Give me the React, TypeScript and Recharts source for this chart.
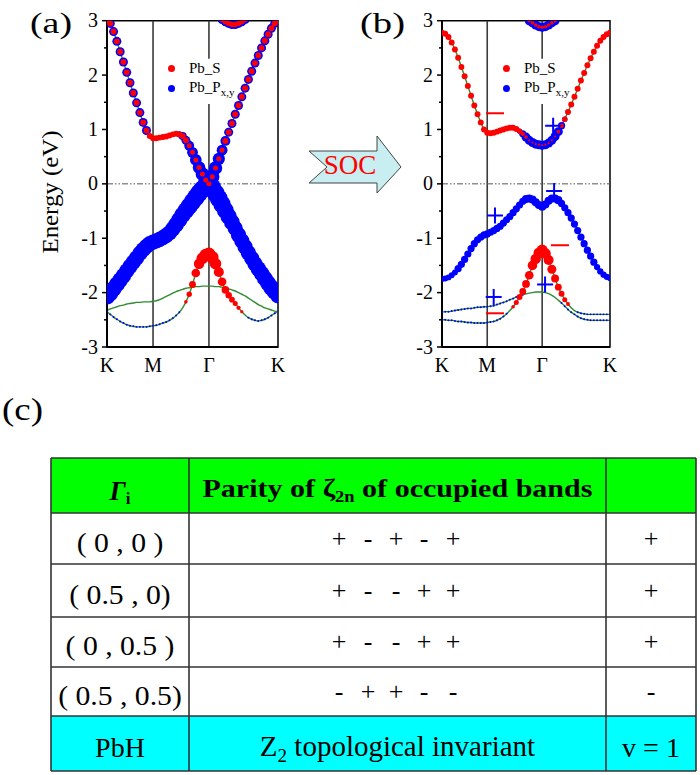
import React from "react";
import {
  ComposedChart,
  Line,
  Scatter,
  XAxis,
  YAxis,
  ReferenceLine,
  ReferenceArea,
  Legend,
} from "recharts";

// ---------------------------------------------------------------------------
// k-path: 53 k-points, K(0) -> M(14) -> Gamma(31) -> K(52)
// ---------------------------------------------------------------------------
const kPath = Array.from({ length: 53 }, (_, i) => i);
const kTicks = [0, 14, 31, 52];
const kLabels = ["K", "M", "Γ", "K"];
const energyTicks = [-3, -2.5, -2, -1.5, -1, -0.5, 0, 0.5, 1, 1.5, 2, 2.5, 3];

// ---- (a) without SOC (eV) ----
const aCond = [
  3.0, 2.95, 2.8, 2.62, 2.43, 2.24, 2.05, 1.86, 1.67, 1.49, 1.31, 1.13, 0.98, 0.88, 0.84,
  0.84, 0.85, 0.86, 0.87, 0.89, 0.91, 0.92, 0.91, 0.88, 0.8, 0.7, 0.58, 0.44, 0.3, 0.18, 0.07, 0.0,
  0.13, 0.29, 0.46, 0.62, 0.79, 0.95, 1.11, 1.28, 1.44, 1.6, 1.76, 1.92, 2.07, 2.22, 2.36, 2.5, 2.63, 2.75, 2.86, 2.95, 3.0,
];
const aCondS = [
  0.33, 0.33, 0.33, 0.33, 0.33, 0.33, 0.33, 0.33, 0.33, 0.33, 0.33, 0.33, 0.33, 0.33, 0.33,
  0.33, 0.33, 0.33, 0.33, 0.33, 0.33, 0.33, 0.33, 0.33, 0.33, 0.28, 0.28, 0.28, 0.28, 0.28, 0.28, 0.28,
  0.28, 0.28, 0.28, 0.28, 0.33, 0.33, 0.33, 0.33, 0.33, 0.33, 0.33, 0.33, 0.33, 0.33, 0.33, 0.33, 0.33, 0.33, 0.33, 0.33, 0.33,
];
const aCondP = [
  0.5, 0.5, 0.5, 0.5, 0.5, 0.5, 0.5, 0.5, 0.5, 0.5, 0.5, 0.5, 0.5, 0.15, 0.15,
  0.15, 0.15, 0.15, 0.15, 0.15, 0.15, 0.15, 0.35, 0.45, 0.5, 0.55, 0.6, 0.65, 0.7, 0.75, 0.8, 0.85,
  0.8, 0.75, 0.68, 0.6, 0.55, 0.5, 0.5, 0.5, 0.5, 0.5, 0.5, 0.5, 0.5, 0.5, 0.5, 0.5, 0.5, 0.5, 0.5, 0.5, 0.5,
];
const aVal = [
  -2.07, -2.01, -1.93, -1.85, -1.77, -1.69, -1.6, -1.52, -1.44, -1.36, -1.28, -1.21, -1.15, -1.1, -1.07,
  -1.05, -1.02, -0.99, -0.95, -0.9, -0.83, -0.75, -0.66, -0.57, -0.49, -0.41, -0.33, -0.25, -0.17, -0.1, -0.04, 0.0,
  -0.07, -0.17, -0.27, -0.38, -0.49, -0.6, -0.71, -0.82, -0.94, -1.05, -1.16, -1.27, -1.37, -1.47, -1.56, -1.65, -1.74, -1.83, -1.91, -1.98, -2.05,
];
const aValP = [
  0.9, 0.9, 0.89, 0.88, 0.87, 0.86, 0.85, 0.85, 0.85, 0.85, 0.85, 0.85, 0.85, 0.85, 0.85,
  0.85, 0.85, 0.85, 0.85, 0.85, 0.85, 0.87, 0.89, 0.91, 0.93, 0.95, 0.97, 0.99, 1.0, 1.0, 1.0, 1.0,
  1.0, 1.0, 1.0, 0.97, 0.94, 0.91, 0.88, 0.85, 0.85, 0.85, 0.85, 0.85, 0.85, 0.85, 0.86, 0.87, 0.88, 0.89, 0.9, 0.9, 0.9,
];
const aS = [
  -2.35, -2.4, -2.45, -2.49, -2.53, -2.56, -2.59, -2.61, -2.62, -2.63, -2.63, -2.63, -2.63, -2.62, -2.61,
  -2.6, -2.58, -2.56, -2.54, -2.51, -2.47, -2.42, -2.36, -2.28, -2.17, -2.03, -1.85, -1.64, -1.47, -1.37, -1.31, -1.29,
  -1.35, -1.47, -1.62, -1.8, -1.95, -2.05, -2.13, -2.2, -2.28, -2.35, -2.41, -2.46, -2.49, -2.51, -2.52, -2.51, -2.49, -2.46, -2.42, -2.38, -2.35,
];
const aSS = [
  0, 0, 0, 0, 0, 0, 0, 0, 0, 0, 0, 0, 0, 0, 0,
  0, 0, 0, 0, 0, 0, 0, 0, 0, 0.2, 0.3, 0.38, 0.48, 0.58, 0.65, 0.7, 0.72,
  0.7, 0.64, 0.56, 0.48, 0.42, 0.36, 0.32, 0.28, 0.24, 0.18, 0, 0, 0, 0, 0, 0, 0, 0, 0, 0, 0,
];
const aSP = [
  0.11, 0.11, 0.11, 0.11, 0.11, 0.11, 0.11, 0.11, 0.11, 0.11, 0.11, 0.11, 0.11, 0.11, 0.11,
  0.11, 0.11, 0.11, 0.11, 0.11, 0.11, 0.11, 0.11, 0, 0, 0, 0, 0, 0, 0, 0, 0,
  0, 0, 0, 0, 0, 0, 0, 0, 0, 0, 0, 0.11, 0.11, 0.11, 0.11, 0.11, 0.11, 0.11, 0.11, 0.11, 0.11,
];
const aGreen = [
  -2.33, -2.3, -2.28, -2.26, -2.24, -2.23, -2.21, -2.2, -2.19, -2.18, -2.18, -2.17, -2.17, -2.17, -2.16,
  -2.15, -2.13, -2.1, -2.07, -2.04, -2.01, -1.98, -1.96, -1.94, -1.92, -1.91, -1.9, -1.89, -1.89, -1.88, -1.88, -1.88,
  -1.88, -1.89, -1.89, -1.9, -1.91, -1.93, -1.95, -1.97, -2.0, -2.03, -2.06, -2.1, -2.14, -2.18, -2.22, -2.25, -2.28, -2.3, -2.32, -2.34, -2.35,
];
const aTop = [
  null, null, null, null, null, null, null, null, null, null, null, null, null, null, null,
  null, null, null, null, null, null, null, null, null, null, null, null, null, null, null, null, null,
  null, null, null, 3.02, 2.98, 2.95, 2.93, 2.93, 2.95, 2.98, 3.02, null, null, null, null, null, null, null, null, null, null,
];

// ---- (b) with SOC (eV) ----
const bCond = [
  2.78, 2.76, 2.7, 2.6, 2.47, 2.32, 2.15, 1.98, 1.8, 1.62, 1.44, 1.28, 1.13, 1.0, 0.94,
  0.93, 0.94, 0.96, 0.98, 1.0, 1.02, 1.03, 1.03, 1.01, 0.97, 0.92, 0.86, 0.8, 0.76, 0.73, 0.72, 0.71,
  0.72, 0.75, 0.8, 0.87, 0.96, 1.07, 1.19, 1.32, 1.46, 1.6, 1.75, 1.9, 2.04, 2.18, 2.31, 2.43, 2.54, 2.63, 2.7, 2.75, 2.78,
];
const bCondS = [
  0.33, 0.33, 0.33, 0.33, 0.33, 0.33, 0.33, 0.33, 0.33, 0.33, 0.33, 0.33, 0.33, 0.33, 0.33,
  0.33, 0.33, 0.33, 0.33, 0.33, 0.33, 0.33, 0.33, 0.33, 0.3, 0.25, 0.2, 0.12, 0.12, 0.12, 0.12, 0.12,
  0.12, 0.12, 0.12, 0.12, 0.2, 0.25, 0.3, 0.33, 0.33, 0.33, 0.33, 0.33, 0.33, 0.33, 0.33, 0.33, 0.33, 0.33, 0.33, 0.33, 0.33,
];
const bCondP = [
  0, 0, 0, 0, 0, 0, 0, 0, 0, 0, 0, 0, 0, 0, 0,
  0, 0, 0, 0, 0, 0, 0, 0, 0.2, 0.3, 0.4, 0.5, 0.5, 0.5, 0.5, 0.5, 0.5,
  0.5, 0.5, 0.5, 0.5, 0.5, 0.4, 0.3, 0.2, 0, 0, 0, 0, 0, 0, 0, 0, 0, 0, 0, 0, 0,
];
const bVal = [
  -1.75, -1.74, -1.72, -1.68, -1.63, -1.56, -1.48, -1.39, -1.29, -1.19, -1.1, -1.03, -0.98, -0.94, -0.92,
  -0.89, -0.86, -0.82, -0.78, -0.72, -0.66, -0.6, -0.53, -0.46, -0.39, -0.32, -0.28, -0.27, -0.29, -0.34, -0.39, -0.42,
  -0.38, -0.31, -0.27, -0.27, -0.3, -0.36, -0.44, -0.53, -0.63, -0.74, -0.86, -0.98, -1.1, -1.22, -1.33, -1.44, -1.53, -1.61, -1.67, -1.71, -1.73,
];
const bValP = [
  0.33, 0.33, 0.33, 0.33, 0.33, 0.4, 0.4, 0.4, 0.4, 0.4, 0.4, 0.4, 0.4, 0.4, 0.4,
  0.4, 0.4, 0.4, 0.4, 0.4, 0.4, 0.4, 0.4, 0.4, 0.4, 0.4, 0.45, 0.45, 0.45, 0.45, 0.45, 0.45,
  0.45, 0.45, 0.45, 0.45, 0.45, 0.4, 0.4, 0.4, 0.4, 0.4, 0.4, 0.4, 0.4, 0.4, 0.4, 0.4, 0.35, 0.35, 0.35, 0.35, 0.35,
];
const bS = [
  -2.5, -2.5, -2.51, -2.51, -2.52, -2.53, -2.53, -2.54, -2.55, -2.55, -2.56, -2.56, -2.56, -2.56, -2.55,
  -2.54, -2.53, -2.51, -2.48, -2.44, -2.39, -2.33, -2.26, -2.18, -2.08, -1.98, -1.84, -1.68, -1.5, -1.38, -1.27, -1.22,
  -1.28, -1.4, -1.57, -1.74, -1.9, -2.02, -2.13, -2.21, -2.28, -2.33, -2.36, -2.38, -2.39, -2.4, -2.4, -2.4, -2.4, -2.4, -2.4, -2.4, -2.4,
];
const bSS = [
  0, 0, 0, 0, 0, 0, 0, 0, 0, 0, 0, 0, 0, 0, 0,
  0, 0, 0, 0, 0, 0, 0, 0.2, 0.28, 0.33, 0.38, 0.43, 0.48, 0.53, 0.58, 0.6, 0.62,
  0.6, 0.56, 0.5, 0.44, 0.38, 0.33, 0.28, 0.22, 0, 0, 0, 0, 0, 0, 0, 0, 0, 0, 0, 0, 0,
];
const bSP = [
  0.11, 0.11, 0.11, 0.11, 0.11, 0.11, 0.11, 0.11, 0.11, 0.11, 0.11, 0.11, 0.11, 0.11, 0.11,
  0.11, 0.11, 0.11, 0.11, 0.11, 0.11, 0, 0, 0, 0, 0, 0, 0, 0, 0, 0, 0,
  0, 0, 0, 0, 0, 0, 0, 0, 0, 0, 0.11, 0.11, 0.11, 0.11, 0.11, 0.11, 0.11, 0.11, 0.11, 0.11, 0.11,
];
const bGreen = [
  -2.36, -2.35, -2.35, -2.34, -2.33, -2.32, -2.31, -2.3, -2.29, -2.29, -2.28, -2.27, -2.27, -2.26, -2.26,
  -2.25, -2.24, -2.22, -2.2, -2.18, -2.16, -2.13, -2.11, -2.08, -2.06, -2.04, -2.02, -2.01, -2.0, -1.99, -1.99, -1.99,
  -2.0, -2.02, -2.05, -2.09, -2.14, -2.19, -2.25, -2.31, -2.36, -2.4, -2.44, -2.47, -2.49, -2.5, -2.51, -2.51, -2.51, -2.51, -2.51, -2.51, -2.51,
];
const bGreenP = [
  0.11, 0.11, 0.11, 0.11, 0.11, 0.11, 0.11, 0.11, 0.11, 0.11, 0.11, 0.11, 0.11, 0.11, 0.11,
  0.11, 0.11, 0.11, 0.11, 0.11, 0.11, 0.11, 0.11, 0.11, 0.11, 0.11, 0, 0, 0, 0, 0, 0,
  0, 0, 0, 0, 0, 0.11, 0.11, 0.11, 0.11, 0.11, 0.11, 0.11, 0.11, 0.11, 0.11, 0.11, 0.11, 0.11, 0.11, 0.11, 0.11,
];
const bTop = [
  null, null, null, null, null, null, null, null, null, null, null, null, null, null, null,
  null, null, null, null, null, null, null, null, null, null, null, null, 3.0, 2.96, 2.92, 2.89, 2.88,
  2.89, 2.92, 2.96, 3.0, null, null, null, null, null, null, null, null, null, null, null, null, null, null, null, null, null,
];

// parity eigenvalue marks in (b): k index, energy, sign
const bParity = [
  { k: 16.4, e: 1.3, sign: "-" },
  { k: 16.4, e: -0.58, sign: "+" },
  { k: 16.0, e: -2.08, sign: "+" },
  { k: 16.4, e: -2.38, sign: "-" },
  { k: 34.4, e: 1.07, sign: "+" },
  { k: 34.7, e: -0.13, sign: "+" },
  { k: 36.5, e: -1.13, sign: "-" },
  { k: 31.9, e: -1.85, sign: "+" },
];

// table (c)
const gammaPoints = ["( 0 , 0 )", "( 0.5 , 0)", "( 0 , 0.5 )", "( 0.5 , 0.5)"];
const paritySigns = [
  ["+", "-", "+", "-", "+"],
  ["+", "-", "-", "+", "+"],
  ["+", "-", "-", "+", "+"],
  ["-", "+", "+", "-", "-"],
];
const productSigns = ["+", "+", "+", "-"];

const legendItems = [
  { name: "Pb_S", sub: "", color: "#ff0000" },
  { name: "Pb_P", sub: "x,y", color: "#0000ff" },
];

// ---------------------------------------------------------------------------
const SERIF = "Liberation Serif, Tinos, Times New Roman, Times, serif";
const RED = "#ff0000";
const BLUE = "#0000ff";
const GREEN = "#2e8b2e";
const DOT_R = 9;

type Weight = number | number[];
type Band = { e: (number | null)[]; s?: Weight; p?: Weight };

const panelA: Band[] = [
  { e: aCond, s: aCondS, p: aCondP },
  { e: aVal, p: aValP },
  { e: aS, s: aSS, p: aSP },
  { e: aGreen },
  { e: aTop, s: 0.3, p: 0.5 },
];
const panelB: Band[] = [
  { e: bCond, s: bCondS, p: bCondP },
  { e: bVal, p: bValP },
  { e: bS, s: bSS, p: bSP },
  { e: bGreen, p: bGreenP },
  { e: bTop, s: 0.2, p: 0.5 },
];

function linePoints(e: (number | null)[]) {
  return kPath.map((k, i) => ({ k, e: e[i] })).filter((d) => d.e !== null);
}

function dotPoints(e: (number | null)[], w?: Weight) {
  if (w === undefined) return [];
  return kPath
    .map((k, i) => ({ k, e: e[i], w: typeof w === "number" ? w : w[i] }))
    .filter((d) => d.e !== null && d.w > 0);
}

function EnergyTick(props: any) {
  const { x, y, payload } = props;
  const major = Number.isInteger(payload.value);
  return (
    <g>
      <line x1={x} x2={x - (major ? 5 : 3)} y1={y} y2={y} stroke="#000" strokeWidth={1.5} />
      {major && (
        <text x={x - 9} y={y} dy={6.5} textAnchor="end" fontSize={20} fontFamily={SERIF} fill="#000">
          {payload.value}
        </text>
      )}
    </g>
  );
}

function ParityMark(props: any) {
  const { cx, cy, payload } = props;
  if (payload.sign === "+") {
    return (
      <g stroke={BLUE} strokeWidth={2}>
        <line x1={cx - 8} x2={cx + 8} y1={cy} y2={cy} />
        <line x1={cx} x2={cx} y1={cy - 8} y2={cy + 8} />
      </g>
    );
  }
  return <line x1={cx - 9} x2={cx + 9} y1={cy} y2={cy} stroke={RED} strokeWidth={2} />;
}

function OrbitalLegend() {
  return (
    <div style={{ fontFamily: SERIF, fontSize: 15, color: "#000" }}>
      {legendItems.map((it) => (
        <div key={it.name} style={{ display: "flex", alignItems: "center", height: 20 }}>
          <span
            style={{
              display: "inline-block",
              width: 7,
              height: 7,
              borderRadius: "50%",
              background: it.color,
              marginLeft: 2.5,
              marginRight: 14.5,
            }}
          />
          <span>
            {it.name}
            {it.sub && <sub style={{ fontSize: 11 }}>{it.sub}</sub>}
          </span>
        </div>
      ))}
    </div>
  );
}

function BandPanel({
  left,
  bands,
  marks,
  legendLeft,
}: {
  left: number;
  bands: Band[];
  marks?: typeof bParity;
  legendLeft: number;
}) {
  return (
    <div style={{ position: "absolute", left, top: 0 }}>
      <ComposedChart width={300} height={380} margin={{ top: 20.7, right: left ? 20 : 22, bottom: 3, left: left ? 72 : 67 }}>
        <XAxis
          dataKey="k"
          type="number"
          domain={[0, 52]}
          ticks={kTicks}
          interval={0}
          allowDataOverflow
          tickLine={false}
          axisLine={{ stroke: "#000", strokeWidth: 2 }}
          tick={{ fontSize: 20, fill: "#000", fontFamily: SERIF }}
          tickMargin={5}
          tickFormatter={(v: number) => kLabels[kTicks.indexOf(v)]}
          height={30}
        />
        <YAxis
          dataKey="e"
          type="number"
          domain={[-3, 3]}
          ticks={energyTicks}
          interval={0}
          allowDataOverflow
          tickLine={false}
          tickSize={0}
          tickMargin={0}
          axisLine={{ stroke: "#000", strokeWidth: 2 }}
          tick={EnergyTick}
          width={40}
        />
        <ReferenceArea x1={0} x2={52} y1={-3} y2={3} fill="none" stroke="#000" strokeWidth={1.5} ifOverflow="visible" />
        <ReferenceLine x={14} stroke="#3a3a3a" strokeWidth={1.6} />
        <ReferenceLine segment={[{ x: 31, y: 3 }, { x: 31, y: 2.3 }]} stroke="#3a3a3a" strokeWidth={1.6} />
        <ReferenceLine segment={[{ x: 31, y: 1.47 }, { x: 31, y: -3 }]} stroke="#3a3a3a" strokeWidth={1.6} />
        <ReferenceLine y={0} stroke="#555" strokeWidth={1} strokeDasharray="6 2 1.5 2 1.5 2" />

        {bands.map((b, i) => (
          <Line
            key={`l${i}`}
            data={linePoints(b.e)}
            dataKey="e"
            type="monotone"
            stroke={GREEN}
            strokeWidth={1.4}
            dot={false}
            isAnimationActive={false}
          />
        ))}
        {bands.map((b, i) => (
          <Scatter
            key={`p${i}`}
            data={dotPoints(b.e, b.p)}
            isAnimationActive={false}
            shape={(sp: any) => <circle cx={sp.cx} cy={sp.cy} r={sp.payload.w * DOT_R} fill={BLUE} />}
          />
        ))}
        {bands.map((b, i) => (
          <Scatter
            key={`s${i}`}
            data={dotPoints(b.e, b.s)}
            isAnimationActive={false}
            shape={(sp: any) => <circle cx={sp.cx} cy={sp.cy} r={sp.payload.w * DOT_R} fill={RED} />}
          />
        ))}
        {marks && <Scatter data={marks} isAnimationActive={false} shape={ParityMark} />}
        <Legend
          layout="vertical"
          align="center"
          verticalAlign="middle"
          wrapperStyle={{ left: legendLeft, top: 58, width: 90, height: 40 }}
          content={() => <OrbitalLegend />}
        />
      </ComposedChart>
    </div>
  );
}

const colEdges = [51, 189, 606, 696];
const rowEdges = [458, 513, 564, 617, 667, 716, 771];
const signSlots = [339, 368, 396, 424, 453];

function FigureOverlay() {
  const mid = (i: number) => (rowEdges[i] + rowEdges[i + 1]) / 2;
  const c1 = (colEdges[0] + colEdges[1]) / 2;
  const c2 = (colEdges[1] + colEdges[2]) / 2;
  const c3 = (colEdges[2] + colEdges[3]) / 2;
  return (
    <svg width={700} height={775} style={{ position: "absolute", left: 0, top: 0, fontFamily: SERIF }}>
      <text x={30} y={33} fontSize={30} textLength={42} lengthAdjust="spacingAndGlyphs">(a)</text>
      <text x={360} y={33} fontSize={30} textLength={45} lengthAdjust="spacingAndGlyphs">(b)</text>
      <text x={2} y={420} fontSize={32} textLength={41} lengthAdjust="spacingAndGlyphs">(c)</text>
      <text transform="translate(58,192) rotate(-90)" textAnchor="middle" fontSize={23} textLength={123} lengthAdjust="spacingAndGlyphs">
        Energy (eV)
      </text>

      <polygon
        points="309,151 377,151 377,136 401,167 377,193 377,183 309,183 327,167"
        fill="#c8eef1"
        stroke="#444"
        strokeWidth={1}
      />
      <text x={350} y={174} fontSize={27} fill={RED} textAnchor="middle">SOC</text>

      {/* table */}
      <rect x={colEdges[0]} y={rowEdges[0]} width={colEdges[3] - colEdges[0]} height={rowEdges[1] - rowEdges[0]} fill="#00ff00" />
      <rect x={colEdges[0]} y={rowEdges[1]} width={colEdges[3] - colEdges[0]} height={rowEdges[5] - rowEdges[1]} fill="#fff" />
      <rect x={colEdges[0]} y={rowEdges[5]} width={colEdges[3] - colEdges[0]} height={rowEdges[6] - rowEdges[5]} fill="#00ffff" />
      {rowEdges.map((y) => (
        <line key={`h${y}`} x1={colEdges[0]} x2={colEdges[3]} y1={y} y2={y} stroke="#333" strokeWidth={1.6} />
      ))}
      {colEdges.map((x) => (
        <line key={`v${x}`} x1={x} x2={x} y1={rowEdges[0]} y2={rowEdges[6]} stroke="#333" strokeWidth={1.6} />
      ))}

      <text x={c1} y={500} textAnchor="middle" fontWeight="bold">
        <tspan fontStyle="italic" fontSize={27}>Γ</tspan>
        <tspan fontSize={17} dy={4}>i</tspan>
      </text>
      <text x={c2} y={497} textAnchor="middle" fontWeight="bold" fontSize={26} textLength={390} lengthAdjust="spacingAndGlyphs">
        Parity of ζ<tspan fontSize={16} dy={5}>2n</tspan>
        <tspan dy={-5}> of occupied bands</tspan>
      </text>

      {gammaPoints.map((g, r) => (
        <g key={g}>
          <text transform={`translate(${c1},${mid(r + 1) + 13}) scale(1.1,1)`} textAnchor="middle" fontSize={27}>
            {g}
          </text>
          {paritySigns[r].map((s, j) => (
            <text key={j} x={signSlots[j]} y={mid(r + 1) + 8} textAnchor="middle" fontSize={26}>
              {s}
            </text>
          ))}
          <text x={c3} y={mid(r + 1) + 8} textAnchor="middle" fontSize={26}>
            {productSigns[r]}
          </text>
        </g>
      ))}

      <text x={c1} y={757} textAnchor="middle" fontSize={28}>PbH</text>
      <text x={c2} y={756} textAnchor="middle" fontSize={29}>
        Z<tspan fontSize={19} dy={6}>2</tspan>
        <tspan dy={-6}> topological invariant</tspan>
      </text>
      <text x={c3} y={757} textAnchor="middle" fontSize={28}>v = 1</text>
    </svg>
  );
}

export default function App() {
  return (
    <div style={{ position: "absolute", left: 0, top: 0, width: 700, height: 775, background: "#fff", fontFamily: SERIF }}>
      <FigureOverlay />
      <BandPanel left={0} bands={panelA} legendLeft={165} />
      <BandPanel left={330} bands={panelB} marks={bParity} legendLeft={170} />
    </div>
  );
}
